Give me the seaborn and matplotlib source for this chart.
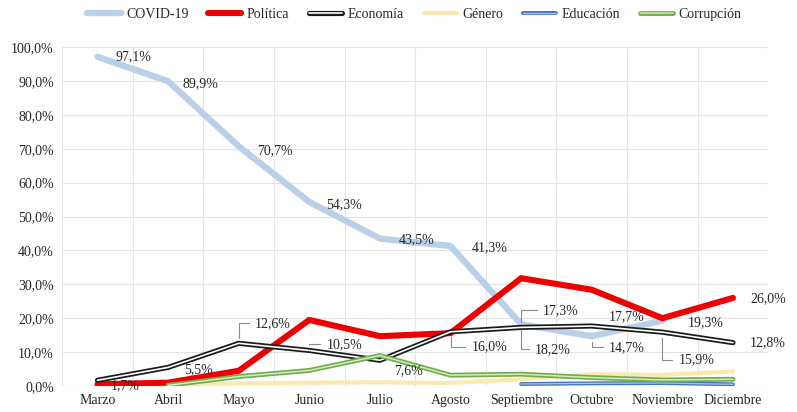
import numpy as np
import pandas as pd
import matplotlib
matplotlib.use("Agg")
import matplotlib.pyplot as plt
from matplotlib.lines import Line2D
from matplotlib.legend_handler import HandlerTuple
from matplotlib.ticker import FuncFormatter, MultipleLocator
import seaborn as sns

meses = ["Marzo", "Abril", "Mayo", "Junio", "Julio", "Agosto",
         "Septiembre", "Octubre", "Noviembre", "Diciembre"]
covid = [97.1, 89.9, 70.7, 54.3, 43.5, 41.3, 18.2, 14.7, 19.3, np.nan]
politica = [0.5, 1.0, 4.5, 19.5, 14.7, 15.6, 31.8, 28.4, 20.0, 26.0]
economia = [1.7, 5.5, 12.6, 10.5, 7.6, 16.0, 17.3, 17.7, 15.9, 12.8]
genero = [np.nan, 0.3, 0.8, 1.0, 1.1, 0.9, 2.0, 3.5, 3.3, 4.3]
educacion = [np.nan, np.nan, np.nan, np.nan, np.nan, np.nan, 0.6, 0.8, 0.9, 0.5]
corrupcion = [np.nan, 0.2, 2.8, 4.6, 9.0, 3.2, 3.5, 2.5, 1.8, 2.0]

sns.set_theme(style="white")
plt.rcParams["font.family"] = ["Liberation Serif", "DejaVu Serif"]

x = np.arange(len(meses))

# (name, values, outer color, outer width, inner color, inner width)
series = [
    ("COVID-19", covid, "#bad0e8", 4.6, None, 0),
    ("Política", politica, "#ee0000", 4.4, None, 0),
    ("Economía", economia, "#1a1a1a", 3.7, "white", 1.2),
    ("Género", genero, "#fbe9b2", 3.0, None, 0),
    ("Educación", educacion, "#4472c4", 2.8, "#a9c6ea", 0.9),
    ("Corrupción", corrupcion, "#70ad47", 3.5, "#d4ebc4", 1.1),
]

fig = plt.figure(figsize=(7.97, 4.12), dpi=100)
ax = fig.add_axes([0.078, 0.063, 0.886, 0.823])

handles, labels = [], []
for i, (name, vals, c, lw, ci, lwi) in enumerate(series):
    df = pd.DataFrame({"x": x, "y": vals}).dropna()
    sns.lineplot(data=df, x="x", y="y", ax=ax, color=c, linewidth=lw,
                 zorder=3 + i, solid_joinstyle="miter")
    h = Line2D([], [], color=c, lw=lw)
    if ci is not None:
        sns.lineplot(data=df, x="x", y="y", ax=ax, color=ci, linewidth=lwi,
                     zorder=3 + i, solid_joinstyle="miter")
        h = (h, Line2D([], [], color=ci, lw=lwi))
    handles.append(h)
    labels.append(name)

ax.set_xlim(-0.5, len(meses) - 0.5)
ax.set_ylim(0, 100)
ax.set_xticks(x)
ax.set_xticklabels(meses)
ax.xaxis.set_minor_locator(MultipleLocator(1, offset=0.5))
ax.yaxis.set_major_locator(MultipleLocator(10))
ax.yaxis.set_major_formatter(FuncFormatter(lambda v, p: f"{v:.1f}%".replace(".", ",")))
ax.set_xlabel("")
ax.set_ylabel("")
ax.grid(False)
ax.grid(axis="y", which="major", color="#e4e4e4", lw=0.8)
ax.grid(axis="x", which="minor", color="#e4e4e4", lw=0.8)
ax.tick_params(axis="both", which="both", length=0, labelsize=10,
               labelcolor="#262626", pad=6)
for s in ax.spines.values():
    s.set_visible(False)
ax.axhline(0, color="#d9d9d9", lw=0.8, zorder=1)


def fmt(v):
    return f"{v:.1f}%".replace(".", ",")


leader = dict(arrowstyle="-", color="#8c8c8c", lw=0.8, relpos=(0, 0.5),
              connectionstyle="angle,angleA=0,angleB=90,rad=0",
              shrinkA=2, shrinkB=4)

# (values, month index, dx px, dy px, with leader line)
etiquetas = [
    (covid, 0, 18, 0, False), (covid, 1, 14, -2, False),
    (covid, 2, 18, -4, False), (covid, 3, 17, -3, False),
    (covid, 4, 19, -1, False), (covid, 5, 21, -2, False),
    (covid, 6, 14, -25, True), (covid, 7, 17, -11, True),
    (covid, 8, 25, -2, False),
    (politica, 9, 17, -1, False),
    (economia, 0, 13, -5, False), (economia, 1, 16, -2, False),
    (economia, 2, 16, 20, True), (economia, 3, 17, 6, True),
    (economia, 4, 14, -10, False), (economia, 5, 21, -15, True),
    (economia, 6, 22, 17, True), (economia, 7, 17, 9, False),
    (economia, 8, 16, -28, True), (economia, 9, 17, 0, False),
]
for vals, k, dx, dy, ld in etiquetas:
    ax.annotate(fmt(vals[k]), xy=(x[k], vals[k]), xytext=(dx, dy),
                textcoords="offset pixels", ha="left", va="center",
                fontsize=10, color="#262626", zorder=20,
                arrowprops=leader if ld else None)

fig.legend(handles, labels, handler_map={tuple: HandlerTuple(ndivide=1)},
           loc="center", bbox_to_anchor=(0.52, 0.965), ncol=6, frameon=False,
           fontsize=10, handlelength=2.4, columnspacing=1.4, handletextpad=0.4,
           labelcolor="#262626")

fig.savefig("out.png", dpi=100)
